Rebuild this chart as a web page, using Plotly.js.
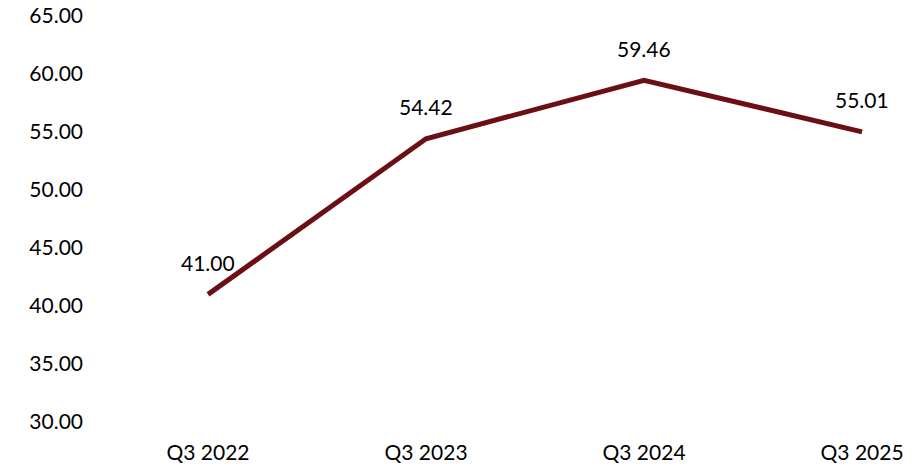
<!DOCTYPE html>
<html>
<head>
<meta charset="utf-8">
<script src="https://cdn.plot.ly/plotly-3.0.1.min.js"></script>
<style>html,body{margin:0;padding:0;background:#fff;}#chart{width:917px;height:467px;}</style>
</head>
<body>
<div id="chart"></div>
<script>
const categories = ["Q3 2022", "Q3 2023", "Q3 2024", "Q3 2025"];
const values = [41.00, 54.42, 59.46, 55.01];
const yTicks = [30, 35, 40, 45, 50, 55, 60, 65];

const lineColor = "#6B0F14";
const fontFamily = "Lato, 'Open Sans', sans-serif";

const trace = {
  x: categories,
  y: values,
  type: "scatter",
  mode: "lines",
  line: {color: lineColor, width: 5},
  hoverinfo: "skip"
};

const annotations = categories.map((c, i) => ({
  x: c, y: values[i], xref: "x", yref: "y",
  text: values[i].toFixed(2),
  showarrow: false, yshift: 32,
  font: {family: fontFamily, size: 21, color: "#000"}
}));

const layout = {
  width: 917, height: 467,
  margin: {l: 90, r: 17, t: 16, b: 45},
  paper_bgcolor: "#fff", plot_bgcolor: "#fff",
  showlegend: false,
  font: {family: fontFamily, size: 21, color: "#000"},
  xaxis: {
    type: "category",
    range: [-0.5413, 3.174],
    showgrid: false, zeroline: false, showline: false,
    ticks: "", ticklabelstandoff: 16,
    tickfont: {family: fontFamily, size: 21, color: "#000"}
  },
  yaxis: {
    range: [30, 65],
    tickvals: yTicks,
    ticktext: yTicks.map(v => v.toFixed(2)),
    showgrid: false, zeroline: false, showline: false,
    ticks: "", ticklabelstandoff: 6,
    tickfont: {family: fontFamily, size: 21, color: "#000"}
  },
  annotations: annotations
};

Plotly.newPlot("chart", [trace], layout, {displayModeBar: false, staticPlot: true});
</script>
</body>
</html>
